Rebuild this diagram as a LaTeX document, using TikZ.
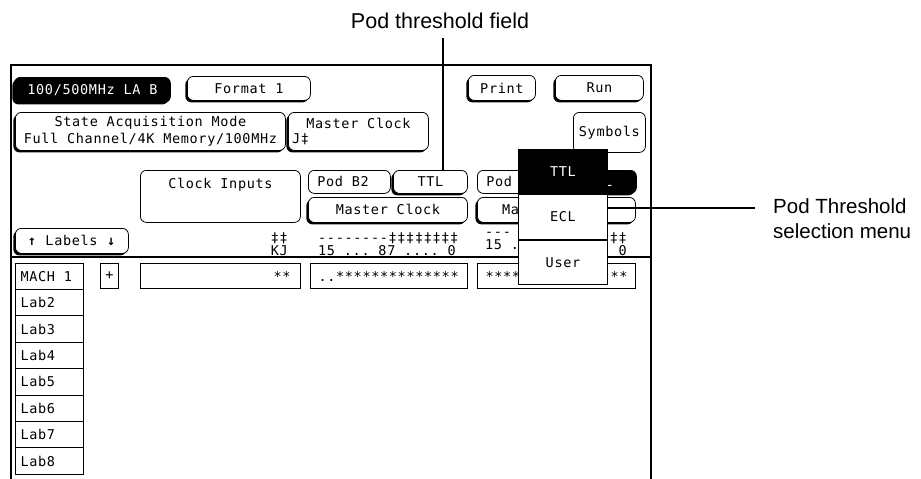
\documentclass[tikz,border=0pt]{standalone}
\usepackage{fontspec}
\setmainfont{Liberation Sans}
\setmonofont{DejaVu Sans Mono}[LetterSpace=5]
\usetikzlibrary{shadows,positioning}
\newcommand\lft[2]{\makebox[#1][l]{#2}}
\newcommand\rgt[2]{\makebox[#1][r]{#2}}
\tikzset{
  scrtext/.style={font=\ttfamily\fontsize{13.5}{17}\selectfont, inner sep=0pt},
  btn/.style={scrtext, draw, fill=white, rounded corners=6pt, line width=0.8pt, anchor=north west},
  shbtn/.style={btn, drop shadow={shadow xshift=-2pt, shadow yshift=-2pt, fill=black, opacity=1}},
  darkbtn/.style={shbtn, fill=black, text=white},
  cell/.style={scrtext, draw, fill=white, line width=1pt, anchor=north west},
  menuitem/.style={cell, minimum width=89pt, minimum height=44.3pt},
  bits/.style={scrtext, font=\ttfamily\fontsize{13.5}{13}\selectfont},
  callout/.style={font=\fontsize{20.5}{25}\selectfont, inner sep=0pt, align=left},
  leader/.style={line width=1.2pt},
}

\begin{document}
\begin{tikzpicture}[x=1pt, y=-1pt]
\useasboundingbox (0,0) rectangle (921,479);
% screen frame
\draw[line width=2pt] (10.5,479) -- (10.5,65) -- (651,65) -- (651,479);

% top rows
\node[darkbtn, minimum width=156pt, minimum height=25pt] (lab) at (14,77) {100/500MHz LA B};
\node[shbtn, minimum width=123pt, minimum height=24pt] (fmt) at (187,76) {Format 1};
\node[shbtn, minimum width=67pt, minimum height=25pt] (print) at (468,75) {Print};
\node[shbtn, minimum width=88pt, minimum height=25pt] (run) at (555,75) {Run};
\node[shbtn, minimum width=270pt, minimum height=38pt, align=center] (acq) at (15,112)
  {State Acquisition Mode\\Full Channel/4K Memory/100MHz};
\node[shbtn, minimum width=140pt, minimum height=38pt] (mclk) at (288,112) {};
\node[scrtext, anchor=north] at ([yshift=-6pt]mclk.north) {Master Clock};
\node[scrtext, anchor=base west] at ([xshift=4pt,yshift=7pt]mclk.south west) {J‡};
\node[btn, minimum width=72pt, minimum height=40pt] (sym) at (573,112) {Symbols};

% clock and pod fields
\node[btn, minimum width=160pt, minimum height=52pt] (clkin) at (140,170) {};
\node[scrtext, anchor=north] at ([yshift=-8pt]clkin.north) {Clock Inputs};
\node[btn, minimum height=23pt, inner xsep=9pt] (podb) at (308,170) {\lft{64pt}{Pod B2}};
\node[shbtn, minimum width=74pt, minimum height=23pt] (ttl) at (393,170) {TTL};
\node[shbtn, minimum width=159pt, minimum height=25pt] (mca) at (308,197) {Master Clock};
\node[btn, minimum height=23pt, inner xsep=9pt] (podc) at (477,170) {\lft{64pt}{Pod}};
\node[darkbtn, minimum width=74pt, minimum height=23pt] (ttlb) at (562,170) {TTL};
\node[shbtn, minimum width=158pt, minimum height=25pt] (mcb) at (477,197) {};
\node[scrtext, anchor=west] at ([xshift=25pt]mcb.west) {Ma};

% label header
\node[shbtn, minimum width=113pt, minimum height=25pt] (labels) at (15,228) {\textbf{↑} Labels \textbf{↓}};
\node[bits, align=right, anchor=north east] (kjbits) at (288,232) {‡‡\\KJ};
\node[bits, align=left, anchor=north west] (podabits) at (318,232) {--------‡‡‡‡‡‡‡‡\\15 ... 87 .... 0};
\node[bits, align=left, anchor=north west] (podbbits) at (485,232) {---\\15 .};
\node[bits, align=right, anchor=north east] (podbend) at (627,232) {‡‡\\0};
\draw[line width=1.5pt] (10,257) -- (651,257);

% label rows
\node[cell, minimum height=26pt, inner xsep=5pt] (mach) at (15,263) {\lft{58pt}{MACH 1}};
\node[cell, minimum width=18pt, minimum height=25pt] (plus) at (100,263) {+};
\node[cell, minimum height=25pt, inner xsep=10pt] (clkdata) at (140,263) {\rgt{140pt}{**}};
\node[cell, minimum height=25pt, inner xsep=8pt] (podadata) at (310,263) {\lft{141pt}{..**************}};
\node[cell, minimum height=25pt, inner xsep=8pt] (podbdata) at (477,263) {\lft{142pt}{****\hfill**}};
\foreach \i in {2,...,8}
  \node[cell, minimum height=26.4pt, inner xsep=5pt] (lab\i) at (15,{289+(\i-2)*26.4}) {\lft{58pt}{Lab\i}};

% threshold menu
\node[menuitem, fill=black, text=white] (ttlm) at (518,149) {TTL};
\node[menuitem, below=0pt of ttlm] (eclm) {ECL};
\node[menuitem, below=0pt of eclm] (userm) {User};

% callouts
\node[callout, font=\fontsize{21.5}{25}\selectfont, anchor=base] (fldlab) at (440,28) {Pod threshold field};
\coordinate (fldend) at (443,38);
\draw[leader] (fldend) -- (fldend |- ttl.north);
\node[callout, anchor=north west] (thrlab) at (773,198) {Pod Threshold\\selection menu};
\coordinate (thrend) at (755,208);
\draw[leader] (eclm.east |- thrend) -- (thrend);
\end{tikzpicture}
\end{document}
